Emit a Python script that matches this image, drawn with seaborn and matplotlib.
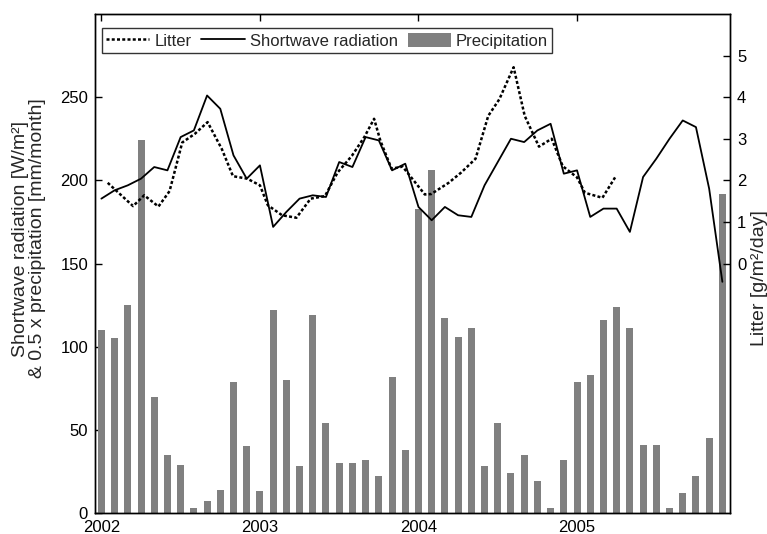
import numpy as np
import matplotlib
matplotlib.use("Agg")
import matplotlib.pyplot as plt
import seaborn as sns
from matplotlib.lines import Line2D
from matplotlib.patches import Patch

# monthly series Jan 2002 .. Dec 2005
years = [2002, 2003, 2004, 2005]
n_months = 48

# shortwave radiation, W/m2
shortwave = [189, 194, 197, 201, 208, 206, 226, 230, 251, 243, 215, 201,
             209, 172, 181, 189, 191, 190, 211, 208, 226, 224, 206, 210,
             184, 176, 184, 179, 178, 197, 211, 225, 223, 230, 234, 204,
             206, 178, 183, 183, 169, 202, 213, 225, 236, 232, 195, 139]

# precipitation, mm/month (drawn as 0.5 x precipitation)
precip = [220, 210, 250, 448, 140, 70, 58, 6, 14, 28, 158, 80,
          26, 244, 160, 56, 238, 108, 60, 60, 64, 44, 164, 76,
          366, 412, 234, 212, 222, 56, 108, 48, 70, 38, 6, 64,
          158, 166, 232, 248, 222, 82, 82, 6, 24, 44, 90, 384]

# litter fall, g/m2/day, at collection dates (decimal years)
litter_dates = [2002.04, 2002.20, 2002.27, 2002.36, 2002.43, 2002.51, 2002.59,
                2002.67, 2002.76, 2002.83, 2002.92, 2003.00, 2003.05, 2003.14,
                2003.23, 2003.32, 2003.41, 2003.49, 2003.58, 2003.66, 2003.72,
                2003.76, 2003.83, 2003.90, 2004.04, 2004.08, 2004.19, 2004.27,
                2004.36, 2004.44, 2004.51, 2004.60, 2004.67, 2004.76, 2004.84,
                2004.91, 2005.00, 2005.05, 2005.16, 2005.24]
litter = [1.94, 1.38, 1.64, 1.37, 1.74, 2.91, 3.12,
          3.40, 2.75, 2.10, 2.04, 1.88, 1.40, 1.16,
          1.10, 1.56, 1.62, 2.19, 2.59, 3.05, 3.48,
          2.95, 2.28, 2.33, 1.66, 1.67, 1.94, 2.19,
          2.52, 3.55, 3.95, 4.72, 3.55, 2.81, 3.00,
          2.34, 2.07, 1.70, 1.58, 2.07]

month_dates = years[0] + np.arange(n_months) / 12.0
half_precip = 0.5 * np.array(precip)

sns.set_theme(style="white")
plt.rcParams['font.family'] = ['Liberation Sans', 'DejaVu Sans']
plt.rcParams['font.size'] = 12

fig = plt.figure(figsize=(7.67, 5.34), dpi=100)
ax = fig.add_axes([0.1239, 0.0393, 0.8279, 0.9345])

bar_color = "#808080"
sns.barplot(x=month_dates, y=half_precip, native_scale=True, color=bar_color,
            saturation=1, width=0.53, errorbar=None, linewidth=0, ax=ax)
sns.lineplot(x=month_dates, y=shortwave, color="black", linewidth=1.3,
             sort=False, ax=ax)

ax.set_xlim(2001.96, 2005.965)
ax.set_ylim(0, 300)
ax.set_xticks(years)
ax.set_xticklabels([str(y) for y in years])
ax.set_yticks([0, 50, 100, 150, 200, 250])
ax.set_ylabel("Shortwave radiation [W/m\u00b2]\n& 0.5 x precipitation [mm/month]",
              fontsize=14, linespacing=0.95)
ax.yaxis.set_label_coords(-0.078, 0.55)
ax.set_xlabel("")
ax.tick_params(direction="in", length=5, width=1, top=True, right=True,
               labelsize=12, colors="black", pad=5)

# litter on the right axis
ax2 = ax.twinx()
sns.lineplot(x=litter_dates, y=litter, color="black", linewidth=1.8,
             linestyle=(0, (1.2, 0.9)), sort=False, ax=ax2)
ax2.set_ylim(-6, 6)
ax2.set_yticks([0, 1, 2, 3, 4, 5])
ax2.set_ylabel("Litter [g/m\u00b2/day]", fontsize=14)
ax2.yaxis.set_label_coords(1.033, 0.47)
ax2.tick_params(direction="in", length=5, width=1, labelsize=12,
                colors="black", pad=5)

for a in (ax, ax2):
    for s in a.spines.values():
        s.set_color("black")
        s.set_linewidth(1.0)

handles = [Line2D([], [], color="black", linewidth=1.8, linestyle=(0, (1.2, 0.9))),
           Line2D([], [], color="black", linewidth=1.3),
           Patch(facecolor=bar_color, edgecolor="none")]
leg = ax2.legend(handles, ["Litter", "Shortwave radiation", "Precipitation"],
                 loc="upper left", bbox_to_anchor=(0.0106, 0.971), ncol=3,
                 fontsize=12, frameon=True, fancybox=False, borderpad=0.25,
                 handlelength=2.6, handleheight=0.95, handletextpad=0.3,
                 columnspacing=0.6, borderaxespad=0)
leg.get_frame().set_edgecolor("black")
leg.get_frame().set_linewidth(1.0)

fig.savefig("out.png", dpi=100)
